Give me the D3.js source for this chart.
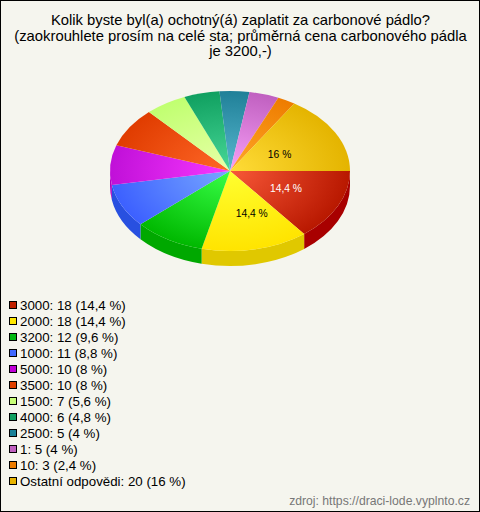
<!DOCTYPE html>
<html><head><meta charset="utf-8">
<script src="https://cdn.jsdelivr.net/npm/d3@7"></script>
<style>
html,body{margin:0;padding:0;background:#f5f5ee}
svg{display:block}
text{font-family:"Liberation Sans",Arial,sans-serif}
</style></head><body>
<script>
const categories=["3000","2000","3200","1000","5000","3500","1500","4000","2500","1","10","Ostatní odpovědi"];
const values=[18,18,12,11,10,10,7,6,5,5,3,20];
const percents=["14,4","14,4","9,6","8,8","8","8","5,6","4,8","4","4","2,4","16"];
const edgeColors=["#b81800","#ffe400","#00b800","#3c60ff","#c010d8","#e03c00","#c0ff70","#10a060","#208098","#c060c0","#ee7c00","#e4b400"];
const centerColors=["#f85838","#ffff30","#38ff48","#78a8ff","#f838ff","#ff6828","#e8ffa8","#48d898","#58b8d0","#f8a0f8","#ffa828","#ffdc38"];
const sideColors=["#a80000","#e0c800","#00a800","#2850e0","#b000c0"];
const legendSwatch=["#c02000","#ffe800","#00b810","#4068ff","#c000d8","#e04000","#c8ff78","#10a060","#188098","#c060c0","#ee7c00","#e8b400"];
const titleLines=["Kolik byste byl(a) ochotný(á) zaplatit za carbonové pádlo?","(zaokrouhlete prosím na celé sta; průměrná cena carbonového pádla","je 3200,-)"];
const sourceText="zdroj: https://draci-lode.vyplnto.cz";

const W=480,H=512,cx=230,cy=171,R=120,squash=2/3,depth=15;
const svg=d3.select("body").append("svg").attr("width",W).attr("height",H);
svg.append("rect").attr("x",0.5).attr("y",0.5).attr("width",W-1).attr("height",H-1).attr("fill","#f5f5ee").attr("stroke","#000");

svg.append("g").selectAll("text").data(titleLines).join("text")
 .attr("x",240.5).attr("y",(d,i)=>25+i*15.5).attr("text-anchor","middle")
 .attr("font-size",14.8).attr("fill","#000").text(d=>d);

const pie=d3.pie().sort(null).startAngle(Math.PI/2).endAngle(Math.PI/2+2*Math.PI);
const arcs=pie(values);
const arc=d3.arc().innerRadius(0).outerRadius(R);
const defs=svg.append("defs");
arcs.forEach((a,i)=>{
 const g=defs.append("radialGradient").attr("id","g"+i).attr("gradientUnits","userSpaceOnUse")
  .attr("cx",0).attr("cy",0).attr("r",R);
 g.append("stop").attr("offset",0).attr("stop-color",centerColors[i]);
 g.append("stop").attr("offset",1).attr("stop-color",edgeColors[i]);
});
const pieG=svg.append("g").attr("transform",`translate(${cx},${cy}) scale(1,${squash})`);
const dy=depth/squash;
arcs.forEach((a,i)=>{
 const a0=Math.max(a.startAngle,Math.PI/2),a1=Math.min(a.endAngle,3*Math.PI/2);
 if(a1<=a0)return;
 const p=d3.path();
 const s0=a0-Math.PI/2,s1=a1-Math.PI/2;
 p.arc(0,0,R,s0,s1,false);
 p.lineTo(R*Math.cos(s1),R*Math.sin(s1)+dy);
 p.arc(0,dy,R,s1,s0,true);
 p.closePath();
 pieG.append("path").attr("d",p.toString()).attr("fill",sideColors[i]);
});
pieG.selectAll("path.top").data(arcs).join("path").attr("class","top")
 .attr("d",arc).attr("fill",(d,i)=>`url(#g${i})`);

const labelTweak={0:[2,0.5,"#fff"],1:[9,3,"#000"],11:[-3,3,"#000"]};
const labelArc=d3.arc().innerRadius(60).outerRadius(60);
arcs.forEach((a,i)=>{
 const t=labelTweak[i]; if(!t)return;
 const c=labelArc.centroid(a);
 svg.append("text").attr("x",cx+c[0]+t[0]).attr("y",cy+c[1]*squash+t[1]+3.5)
  .attr("text-anchor","middle").attr("font-size",10.3).attr("fill",t[2]).text(`${percents[i]} %`);
});

const leg=svg.append("g");
const y=d3.scalePoint().domain(d3.range(categories.length)).range([305,481]);
categories.forEach((c,i)=>{
 leg.append("rect").attr("x",9.5).attr("y",y(i)-3.5).attr("width",7).attr("height",7)
  .attr("fill",legendSwatch[i]).attr("stroke","#000").attr("stroke-width",1);
 leg.append("text").attr("x",20).attr("y",y(i)+5).attr("font-size",13.3).attr("fill","#000")
  .text(`${c}: ${values[i]} (${percents[i]} %)`);
});
svg.append("text").attr("x",470).attr("y",505).attr("text-anchor","end").attr("font-size",12.2).attr("fill","#777").text(sourceText);
</script>
</body></html>
